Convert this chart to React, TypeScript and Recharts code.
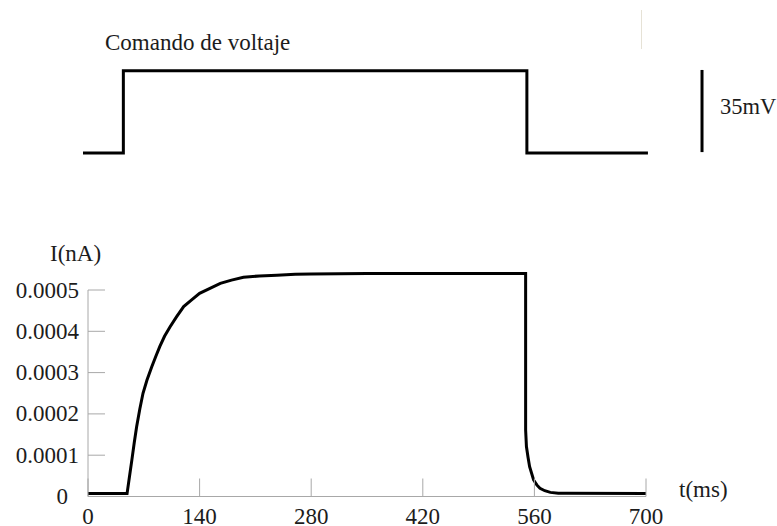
import React from 'react'
import { LineChart, Line, XAxis, YAxis, ReferenceLine } from 'recharts'

// voltage command (top panel), relative mV
const cmdTime = [0, 50, 50, 550, 550, 700]
const cmdVolt = [0, 0, 35, 35, 0, 0]

// current trace (bottom panel), nA vs ms
const curTime = [
  0, 49, 52, 55, 58, 61, 65, 69, 74, 80, 85, 90, 96, 103, 111, 120, 130, 140, 153, 166, 180, 195, 215, 237, 260, 280,
  350, 549, 549, 550, 552, 554, 559, 563, 567, 573, 580, 590, 600, 700,
]
const curAmp = [
  0.000007, 0.000007, 0.000048, 0.000088, 0.00013, 0.000169, 0.000212, 0.00025, 0.000282, 0.000314, 0.000339,
  0.000363, 0.000388, 0.000411, 0.000435, 0.00046, 0.000476, 0.000492, 0.000504, 0.000516, 0.000524, 0.000531,
  0.000534, 0.000536, 0.000538, 0.000539, 0.00054, 0.00054, 0.000161, 0.000121, 0.000095, 0.000072, 0.00004,
  0.000028, 0.00002, 0.000014, 0.00001, 0.000008, 0.000008, 0.000007,
]

const xTicks = [0, 140, 280, 420, 560, 700]
const yTicks = [0, 0.0001, 0.0002, 0.0003, 0.0004, 0.0005]

const font = 'Liberation Serif'
const tickGray = '#a8a8a8'
const textColor = '#1c1c1c'

const cmdData = cmdTime.map((t, i) => ({ t, v: cmdVolt[i] }))
const curData = curTime.map((t, i) => ({ t, i: curAmp[i] }))

function XTick(props: any) {
  const { x, y, payload } = props
  return (
    <g>
      <line x1={x} x2={x} y1={y} y2={y - 18} stroke={tickGray} strokeWidth={1} />
      <text x={x} y={y + 27} textAnchor="middle" style={{ fontFamily: font, fontSize: 23 }} fill={textColor}>
        {payload.value}
      </text>
    </g>
  )
}

function YTick(props: any) {
  const { x, y, payload } = props
  const v = payload.value
  const label = v === 0 ? '0' : v.toFixed(4)
  return (
    <g>
      <line x1={x} x2={x + 17} y1={y} y2={y} stroke={tickGray} strokeWidth={1} />
      <text x={v === 0 ? x - 20 : x - 9} y={y + 7.5} textAnchor="end" style={{ fontFamily: font, fontSize: 23 }} fill={textColor}>
        {label}
      </text>
    </g>
  )
}

const labelStyle: React.CSSProperties = {
  position: 'absolute',
  fontFamily: font,
  fontSize: 23,
  lineHeight: '22px',
  color: textColor,
  whiteSpace: 'nowrap',
}

export default function App() {
  return (
    <div style={{ position: 'absolute', left: 0, top: 0, width: 777, height: 526, background: '#fff', overflow: 'hidden', fontFamily: font }}>
      {/* top panel: voltage step */}
      <div style={{ position: 'absolute', left: 0, top: 0 }}>
        <LineChart width={777} height={180} data={cmdData} margin={{ top: 58.9, right: 8, bottom: 15.2, left: 83 }}>
          <XAxis dataKey="t" type="number" domain={[0, 850]} hide />
          <YAxis type="number" domain={[-5, 40]} hide />
          <Line dataKey="v" type="linear" stroke="#000" strokeWidth={3} dot={false} isAnimationActive={false} />
          <ReferenceLine
            segment={[{ x: 767, y: 0.4 }, { x: 767, y: 35.3 }]}
            stroke="#000"
            strokeWidth={3}
            ifOverflow="visible"
          />
        </LineChart>
      </div>
      <div style={{ position: 'absolute', left: 641, top: 10, width: 1, height: 39, background: '#e6e2d6' }} />
      <div style={{ ...labelStyle, left: 105, top: 32 }}>Comando de voltaje</div>
      <div style={{ ...labelStyle, left: 720, top: 96, fontSize: 22.5 }}>35mV</div>

      {/* bottom panel: current */}
      <div style={{ position: 'absolute', left: 0, top: 226 }}>
        <LineChart width={777} height={300} data={curData} margin={{ top: 22.7, right: 131, bottom: 0, left: 0 }}>
          <XAxis
            dataKey="t"
            type="number"
            domain={[0, 700]}
            ticks={xTicks}
            height={29.5}
            axisLine={{ stroke: tickGray, strokeWidth: 1 }}
            tickLine={false}
            tickSize={0}
            tickMargin={0}
            tick={(p: any) => <XTick {...p} />}
            interval={0}
          />
          <YAxis
            type="number"
            domain={[0, 0.0006]}
            ticks={yTicks}
            width={88}
            axisLine={false}
            tickLine={false}
            tickSize={0}
            tickMargin={0}
            tick={(p: any) => <YTick {...p} />}
            interval={0}
          />
          <ReferenceLine
            segment={[{ x: 0, y: 0 }, { x: 0, y: 0.0005 }]}
            stroke={tickGray}
            strokeWidth={1}
            ifOverflow="visible"
          />
          <Line dataKey="i" type="linear" stroke="#000" strokeWidth={3} dot={false} isAnimationActive={false} />
        </LineChart>
      </div>
      <div style={{ ...labelStyle, left: 50, top: 243 }}>I(nA)</div>
      <div style={{ ...labelStyle, left: 679, top: 479 }}>t(ms)</div>
    </div>
  )
}
